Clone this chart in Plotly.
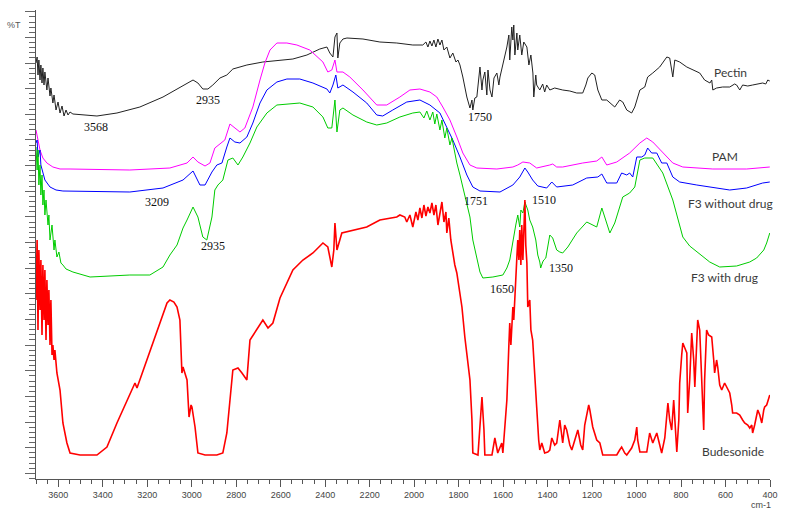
import plotly.graph_objects as go

# ---------------- data (wavenumber cm-1, transmittance in arbitrary %T units) ----------------
pectin_wn = [3700, 3695, 3691, 3687, 3682, 3678, 3673, 3669, 3664, 3660, 3651, 3646, 3637, 3633, 3624, 3619,
             3610, 3601, 3592, 3583, 3574, 3565, 3556, 3547, 3534, 3426, 3336, 3233, 3129, 3053, 2994, 2972,
             2950, 2927, 2905, 2873, 2842, 2815, 2752, 2680, 2603, 2545, 2482, 2424, 2392, 2379, 2365, 2356,
             2347, 2343, 2334, 2320, 2302, 2230, 2154, 2078, 2006, 1961, 1947, 1938, 1929, 1920, 1911, 1902,
             1893, 1884, 1875, 1866, 1853, 1839, 1826, 1812, 1803, 1794, 1781, 1763, 1749, 1740, 1736, 1727,
             1718, 1713, 1704, 1695, 1691, 1682, 1673, 1668, 1659, 1650, 1641, 1628, 1619, 1614, 1601, 1592,
             1583, 1574, 1570, 1561, 1556, 1552, 1547, 1538, 1534, 1525, 1516, 1507, 1493, 1484, 1475, 1466,
             1462, 1453, 1449, 1435, 1422, 1413, 1404, 1390, 1368, 1332, 1300, 1269, 1242, 1228, 1219, 1201,
             1188, 1174, 1156, 1134, 1120, 1098, 1076, 1062, 1044, 1022, 1008, 985, 963, 950, 927, 896,
             864, 851, 842, 837, 828, 806, 774, 747, 716, 694, 670, 662, 657, 640, 613, 581,
             559, 550, 536, 523, 500, 478, 455, 433, 419, 410, 401]
pectin_t = [416, 422, 404, 419, 399, 414, 396, 411, 394, 407, 389, 401, 383, 391, 376, 384,
            369, 377, 366, 373, 363, 369, 364, 367, 365, 363, 366, 372, 382, 392, 399, 396,
            390, 390, 394, 401, 404, 410, 414, 417, 419, 420, 424, 430, 432, 426, 422, 442,
            446, 421, 436, 440, 441, 440, 437, 436, 434, 434, 437, 432, 438, 433, 439, 432,
            440, 434, 439, 429, 432, 421, 426, 417, 419, 414, 402, 382, 371, 379, 369, 381,
            382, 394, 412, 389, 399, 407, 384, 409, 389, 382, 401, 406, 394, 402, 414, 424,
            432, 444, 419, 452, 439, 454, 424, 446, 429, 444, 424, 437, 432, 414, 424, 406,
            382, 404, 394, 389, 395, 387, 394, 389, 391, 389, 388, 386, 386, 394, 401, 406,
            404, 389, 379, 379, 376, 372, 379, 377, 369, 366, 372, 389, 392, 402, 406, 412,
            422, 421, 409, 402, 419, 417, 412, 409, 406, 399, 396, 399, 389, 391, 392, 392,
            395, 394, 389, 394, 393, 394, 395, 396, 395, 399, 398]

pam_wn = [3700, 3691, 3682, 3669, 3651, 3624, 3592, 3547, 3278, 3098, 3021, 2994, 2972, 2940, 2918, 2896,
          2873, 2851, 2828, 2806, 2783, 2761, 2725, 2693, 2671, 2648, 2617, 2572, 2527, 2469, 2410, 2388,
          2370, 2356, 2347, 2320, 2289, 2230, 2168, 2123, 2064, 2019, 1974, 1929, 1898, 1871, 1839, 1808,
          1781, 1749, 1718, 1628, 1556, 1534, 1511, 1480, 1449, 1390, 1377, 1359, 1332, 1242, 1179, 1156,
          1134, 1089, 1031, 985, 954, 927, 882, 837, 792, 657, 505, 415, 401]
pam_t = [349, 339, 329, 321, 316, 312, 310, 310, 309, 311, 316, 322, 317, 313, 316, 331,
         335, 339, 355, 351, 347, 351, 372, 399, 416, 429, 436, 436, 434, 429, 417, 407,
         409, 419, 407, 407, 402, 389, 374, 374, 382, 389, 390, 387, 382, 372, 359, 342,
         326, 314, 311, 310, 312, 314, 317, 316, 311, 314, 315, 312, 312, 316, 318, 322,
         314, 317, 326, 336, 341, 337, 326, 316, 312, 310, 310, 312, 312]

f3_wn = [3700, 3695, 3691, 3682, 3678, 3669, 3660, 3637, 3610, 3579, 3278, 3129, 3039, 2994, 2963, 2940,
         2909, 2887, 2864, 2842, 2828, 2806, 2783, 2752, 2725, 2693, 2662, 2617, 2572, 2514, 2455, 2392,
         2379, 2365, 2352, 2343, 2320, 2275, 2213, 2168, 2141, 2096, 2033, 1974, 1929, 1884, 1853, 1826,
         1794, 1763, 1736, 1704, 1614, 1556, 1525, 1502, 1489, 1467, 1444, 1404, 1381, 1359, 1287, 1224,
         1174, 1156, 1134, 1089, 1067, 1044, 1031, 1017, 999, 977, 963, 950, 932, 909, 887, 864,
         837, 806, 729, 581, 505, 433, 401]
f3_t = [336, 339, 322, 329, 314, 307, 299, 292, 289, 288, 287, 291, 299, 308, 294, 294,
        307, 314, 316, 332, 341, 337, 336, 342, 356, 376, 389, 397, 400, 400, 396, 390,
        386, 394, 404, 391, 394, 387, 376, 364, 363, 369, 377, 379, 374, 366, 352, 339,
        322, 304, 292, 288, 287, 294, 302, 311, 307, 299, 293, 291, 297, 292, 294, 301,
        302, 305, 296, 296, 306, 304, 306, 302, 322, 322, 324, 331, 326, 326, 316, 316,
        302, 297, 294, 289, 291, 296, 297]

f3d_wn = [3700, 3695, 3691, 3687, 3682, 3678, 3673, 3669, 3664, 3660, 3655, 3646, 3642, 3637, 3628, 3619,
          3615, 3606, 3597, 3588, 3579, 3565, 3534, 3457, 3278, 3188, 3129, 3098, 3066, 3039, 3021, 2994,
          2972, 2950, 2932, 2909, 2896, 2882, 2860, 2837, 2815, 2792, 2770, 2738, 2707, 2662, 2617, 2568,
          2514, 2455, 2410, 2388, 2370, 2356, 2347, 2334, 2320, 2275, 2213, 2168, 2123, 2064, 2006, 1974,
          1956, 1943, 1929, 1916, 1907, 1898, 1884, 1875, 1862, 1853, 1839, 1830, 1817, 1808, 1794, 1781,
          1763, 1749, 1736, 1727, 1718, 1704, 1691, 1646, 1601, 1583, 1570, 1556, 1543, 1534, 1525, 1520,
          1511, 1502, 1493, 1489, 1480, 1467, 1453, 1444, 1435, 1431, 1422, 1417, 1408, 1399, 1390, 1377,
          1359, 1345, 1332, 1309, 1287, 1269, 1224, 1179, 1156, 1143, 1120, 1098, 1062, 1031, 1008, 985,
          963, 927, 882, 837, 792, 761, 729, 671, 626, 550, 491, 460, 428, 415, 401]
f3d_t = [332, 309, 329, 294, 314, 284, 304, 274, 289, 264, 279, 254, 264, 239, 254, 229,
         239, 222, 227, 216, 214, 210, 207, 202, 204, 204, 212, 224, 234, 251, 259, 272,
         262, 242, 239, 262, 289, 294, 299, 319, 321, 314, 322, 336, 352, 366, 374, 375,
         376, 372, 362, 351, 351, 379, 347, 369, 371, 364, 357, 354, 356, 362, 366, 367,
         361, 368, 359, 367, 355, 365, 349, 359, 341, 351, 334, 341, 324, 316, 304, 292,
         274, 262, 239, 229, 219, 207, 201, 202, 204, 211, 219, 239, 254, 264, 252, 269,
         266, 277, 272, 269, 259, 252, 239, 224, 217, 211, 217, 219, 221, 232, 244, 241,
         229, 227, 226, 232, 239, 246, 257, 252, 271, 262, 246, 256, 282, 286, 292, 319,
         321, 321, 306, 279, 242, 233, 227, 217, 212, 213, 217, 221, 229, 236, 246]

bud_wn = [3700, 3695, 3691, 3687, 3682, 3678, 3673, 3669, 3664, 3660, 3655, 3651, 3646, 3642, 3637, 3633,
          3628, 3624, 3619, 3615, 3606, 3592, 3579, 3561, 3547, 3502, 3426, 3381, 3336, 3291, 3264, 3255,
          3246, 3201, 3156, 3111, 3098, 3080, 3066, 3053, 3044, 3039, 3021, 3012, 3003, 2999, 2985, 2972,
          2940, 2887, 2860, 2842, 2815, 2792, 2774, 2752, 2738, 2707, 2680, 2657, 2635, 2603, 2572, 2545,
          2500, 2455, 2410, 2388, 2370, 2361, 2356, 2347, 2325, 2275, 2213, 2154, 2109, 2078, 2064, 2042,
          2033, 2019, 2006, 1992, 1983, 1974, 1965, 1956, 1947, 1938, 1929, 1920, 1911, 1902, 1893, 1884,
          1875, 1866, 1857, 1853, 1844, 1835, 1826, 1817, 1808, 1799, 1785, 1772, 1758, 1749, 1740, 1736,
          1713, 1704, 1695, 1686, 1682, 1650, 1637, 1624, 1606, 1601, 1592, 1583, 1574, 1570, 1565, 1556,
          1552, 1543, 1538, 1534, 1529, 1525, 1520, 1516, 1511, 1502, 1498, 1493, 1489, 1480, 1475, 1467,
          1458, 1449, 1440, 1435, 1426, 1413, 1399, 1390, 1381, 1368, 1359, 1345, 1332, 1323, 1314, 1300,
          1291, 1278, 1264, 1251, 1242, 1233, 1224, 1215, 1210, 1201, 1197, 1179, 1165, 1152, 1089, 1076,
          1067, 1053, 1044, 1022, 1008, 999, 995, 985, 954, 941, 927, 909, 896, 887, 873, 859,
          851, 842, 833, 824, 819, 810, 806, 797, 792, 783, 774, 770, 761, 752, 743, 738,
          729, 725, 716, 707, 703, 698, 694, 685, 676, 662, 653, 649, 640, 635, 626, 617,
          604, 590, 581, 572, 568, 550, 536, 523, 514, 500, 491, 482, 478, 469, 455, 446,
          437, 428, 424, 415, 406, 401]
bud_t = [179, 239, 149, 229, 169, 219, 144, 214, 159, 209, 139, 199, 154, 189, 134, 179,
         124, 134, 119, 129, 106, 89, 56, 36, 26, 24, 24, 32, 56, 79, 92, 96,
         91, 119, 149, 176, 179, 177, 172, 159, 106, 112, 99, 62, 74, 72, 52, 26,
         24, 24, 26, 46, 109, 111, 106, 99, 139, 149, 159, 151, 156, 181, 196, 209,
         219, 226, 236, 232, 212, 229, 256, 229, 246, 249, 252, 259, 261, 262, 264, 262,
         257, 264, 252, 267, 259, 271, 261, 274, 263, 272, 266, 276, 264, 274, 254, 267,
         277, 257, 267, 246, 261, 239, 224, 214, 206, 194, 172, 142, 114, 99, 59, 26,
         24, 49, 82, 49, 24, 24, 41, 26, 36, 26, 49, 79, 134, 156, 134, 172,
         159, 209, 222, 239, 219, 249, 214, 254, 219, 279, 234, 216, 172, 179, 149, 139,
         99, 72, 39, 29, 36, 26, 27, 29, 41, 34, 36, 59, 36, 54, 49, 34,
         29, 39, 49, 34, 29, 54, 66, 74, 69, 59, 52, 39, 36, 24, 24, 29,
         32, 26, 24, 31, 39, 52, 39, 27, 27, 46, 36, 46, 34, 26, 41, 76,
         59, 49, 79, 39, 27, 59, 96, 124, 136, 131, 126, 66, 99, 146, 119, 92,
         139, 159, 149, 106, 79, 49, 99, 149, 144, 142, 119, 106, 119, 112, 94, 89,
         96, 89, 86, 74, 66, 66, 64, 59, 56, 54, 51, 54, 46, 54, 69, 64,
         56, 69, 72, 74, 82, 84]

x_ticks = [3600, 3400, 3200, 3000, 2800, 2600, 2400, 2200, 2000, 1800, 1600, 1400, 1200, 1000, 800, 600, 400]

series = [
    ("Pectin", pectin_wn, pectin_t, "#222222", 1.0),
    ("PAM", pam_wn, pam_t, "#ff00ff", 1.0),
    ("F3 without drug", f3_wn, f3_t, "#0000ff", 1.0),
    ("F3 with drug", f3d_wn, f3d_t, "#00cc00", 1.0),
    ("Budesonide", bud_wn, bud_t, "#ff0000", 1.6),
]

# peak labels: (text, wavenumber, transmittance position)
peak_text = ["3568", "2935", "3209", "2935", "1750", "1751", "1510", "1650", "1350"]
peak_x = [3430, 2927, 3156, 2905, 1705, 1723, 1417, 1606, 1341]
peak_y = [352, 379, 277, 233, 362, 278, 279, 190, 211]

name_x = [577, 604, 577, 604, 568]
name_y = [407, 323, 276, 202, 28]

fig = go.Figure()
for name, xs, ys, col, w in series:
    fig.add_trace(go.Scatter(x=xs, y=ys, mode="lines", name=name,
                             line=dict(color=col, width=w), showlegend=False,
                             hoverinfo="skip"))

annotations = []
for t, x, y in zip(peak_text, peak_x, peak_y):
    annotations.append(dict(text=t, x=x, y=y, xref="x", yref="y", showarrow=False,
                            xanchor="center", yanchor="middle",
                            font=dict(family="Liberation Serif", size=12, color="#111111")))
for (name, *_), x, y in zip(series, name_x, name_y):
    annotations.append(dict(text=name, x=x, y=y, xref="x", yref="y", showarrow=False,
                            xanchor="center", yanchor="middle",
                            font=dict(family="Lato", size=12, color="#3a3a3a")))
annotations.append(dict(text="%T", x=-0.03, y=0.969, xref="paper", yref="paper", showarrow=False,
                        xanchor="center", yanchor="middle",
                        font=dict(family="Liberation Sans", size=9, color="#555555")))
annotations.append(dict(text="cm-1", x=0.988, y=-0.055, xref="paper", yref="paper", showarrow=False,
                        xanchor="center", yanchor="middle",
                        font=dict(family="Liberation Sans", size=9, color="#444444")))

fig.update_layout(
    width=785, height=515,
    margin=dict(l=36, r=15, t=10, b=36),
    paper_bgcolor="white", plot_bgcolor="white",
    annotations=annotations,
    xaxis=dict(range=[3700, 400], tickvals=x_ticks, ticks="outside", ticklen=7,
               tickcolor="#555555", showline=True, linecolor="#555555", linewidth=1,
               showgrid=False, zeroline=False, automargin=False,
               tickfont=dict(family="Liberation Sans", size=9, color="#444444"),
               minor=dict(ticks="outside", ticklen=4, tickcolor="#555555", dtick=50, tick0=400,
                          showgrid=False)),
    yaxis=dict(range=[0, 469], tick0=5.7, dtick=25.64, ticks="outside", ticklen=10,
               tickcolor="#666666", showline=True, linecolor="#555555", linewidth=1,
               showticklabels=False, showgrid=False, zeroline=False, automargin=False,
               minor=dict(ticks="outside", ticklen=6, tickcolor="#666666", dtick=5.128, tick0=5.7,
                          showgrid=False)),
)

fig.write_html("out.html", config={"displayModeBar": False},
               post_script="document.body.style.margin='0';document.body.style.padding='0';"
                           "document.body.style.overflow='hidden';")
